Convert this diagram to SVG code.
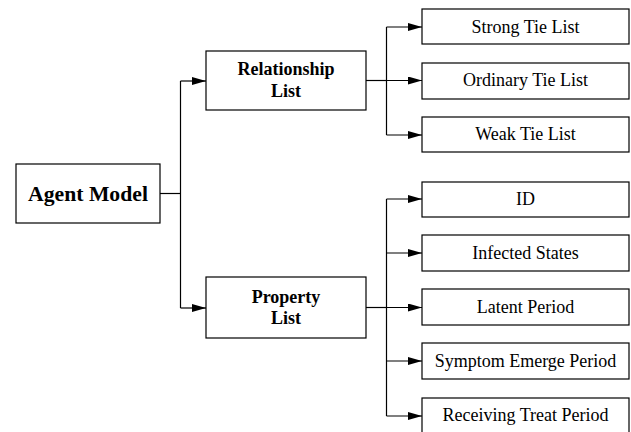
<svg xmlns="http://www.w3.org/2000/svg" width="631" height="432" viewBox="0 0 631 432">
<style>
.box{fill:#fff;stroke:#000;stroke-width:1.2}
.ln{fill:none;stroke:#000;stroke-width:1.2}
.t{font-family:"Liberation Serif","Times New Roman",serif;font-size:18px;fill:#000;text-anchor:middle}
.b{font-weight:bold}
</style>
<defs>
<marker id="ah" markerWidth="14" markerHeight="8" refX="14" refY="4" orient="auto" markerUnits="userSpaceOnUse">
<path d="M0,0 L14,4 L0,8 Z" fill="#000"/>
</marker>
</defs>
<rect width="631" height="432" fill="#fff"/>
<g id="connectors">
<path class="ln" d="M160,193.5 H180.5"/>
<path class="ln" d="M180.5,81 V308"/>
<path class="ln" d="M180.5,81 H206" marker-end="url(#ah)"/>
<path class="ln" d="M180.5,308 H206" marker-end="url(#ah)"/>
<path class="ln" d="M366,80.5 H386.5"/>
<path class="ln" d="M386.5,27 V135"/>
<path class="ln" d="M386.5,27 H422" marker-end="url(#ah)"/>
<path class="ln" d="M386.5,80.5 H422" marker-end="url(#ah)"/>
<path class="ln" d="M386.5,135 H422" marker-end="url(#ah)"/>
<path class="ln" d="M366,307.5 H386.5"/>
<path class="ln" d="M386.5,199 V416"/>
<path class="ln" d="M386.5,199 H422" marker-end="url(#ah)"/>
<path class="ln" d="M386.5,253 H422" marker-end="url(#ah)"/>
<path class="ln" d="M386.5,307.5 H422" marker-end="url(#ah)"/>
<path class="ln" d="M386.5,361 H422" marker-end="url(#ah)"/>
<path class="ln" d="M386.5,416 H422" marker-end="url(#ah)"/>
</g>
<g id="agent-model">
<rect class="box" x="16" y="164" width="144" height="59"/>
<text class="t b" x="88" y="200.5" style="font-size:21.7px">Agent Model</text>
</g>
<g id="relationship-list">
<rect class="box" x="206" y="51" width="160" height="59"/>
<text class="t b" x="286" y="75">Relationship</text>
<text class="t b" x="286" y="96.7">List</text>
</g>
<g id="property-list">
<rect class="box" x="206" y="277" width="160" height="61"/>
<text class="t b" x="286" y="302.7">Property</text>
<text class="t b" x="286" y="324">List</text>
</g>
<g id="strong-tie-list">
<rect class="box" x="422" y="9" width="207" height="35"/>
<text class="t" x="525.5" y="32.7">Strong Tie List</text>
</g>
<g id="ordinary-tie-list">
<rect class="box" x="422" y="63" width="207" height="36"/>
<text class="t" x="525.5" y="86">Ordinary Tie List</text>
</g>
<g id="weak-tie-list">
<rect class="box" x="422" y="117" width="207" height="35"/>
<text class="t" x="525.5" y="140">Weak Tie List</text>
</g>
<g id="id">
<rect class="box" x="422" y="182" width="207" height="35"/>
<text class="t" x="525.5" y="205">ID</text>
</g>
<g id="infected-states">
<rect class="box" x="422" y="235" width="207" height="36"/>
<text class="t" x="525.5" y="259">Infected States</text>
</g>
<g id="latent-period">
<rect class="box" x="422" y="289" width="207" height="36"/>
<text class="t" x="525.5" y="313.3">Latent Period</text>
</g>
<g id="symptom-emerge-period">
<rect class="box" x="422" y="343" width="207" height="36"/>
<text class="t" x="525.5" y="367.3">Symptom Emerge Period</text>
</g>
<g id="receiving-treat-period">
<rect class="box" x="422" y="398" width="207" height="40"/>
<text class="t" x="525.5" y="420.7">Receiving Treat Period</text>
</g>
</svg>
